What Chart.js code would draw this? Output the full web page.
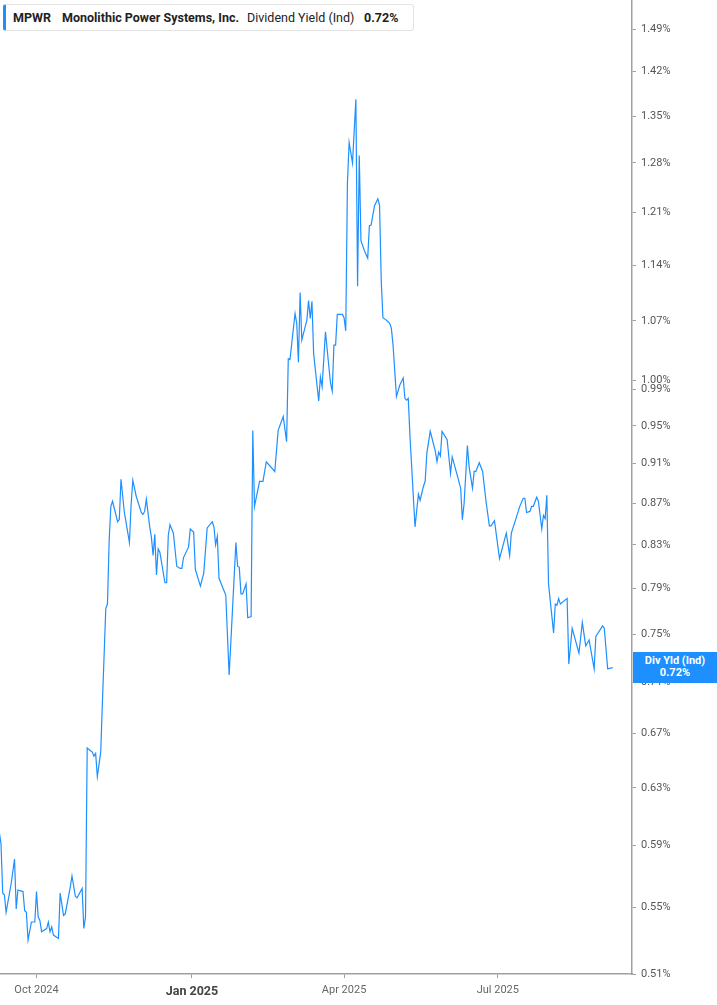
<!DOCTYPE html>
<html>
<head>
<meta charset="utf-8">
<script src="https://cdn.jsdelivr.net/npm/chart.js@4.4.1/dist/chart.umd.min.js"></script>
<style>
    html, body { margin: 0; padding: 0; background: #fff; overflow: hidden; }
    #wrap { position: relative; width: 717px; height: 1005px; }
    #chart { position: absolute; left: 0; top: 0; }
    .legend {
        position: absolute; left: 3px; top: 4px; width: 407px; height: 25px;
        background: #fff; border: 1px solid #e3e3e3; border-left: 3px solid #1e8fff;
        border-radius: 3px; font: 12.5px Roboto, sans-serif; color: #222;
    }
    .legend span { position: absolute; top: 5px; white-space: nowrap; }
    .legend .b { font-weight: bold; }
    #badge {
        position: absolute; left: 633px; width: 84px; height: 31px;
        background: #1e8fff; color: #fff; font: bold 11px Roboto, sans-serif;
        text-align: center; line-height: 12px; display: none;
    }
    #badge div:first-child { margin-top: 3px; }
</style>
</head>
<body>
<div id="wrap">
    <canvas id="chart" width="717" height="1005"></canvas>
    <div class="legend">
        <span class="b" style="left:7px">MPWR</span>
        <span class="b" style="left:56px">Monolithic Power Systems, Inc.</span>
        <span style="left:241px">Dividend Yield (Ind)</span>
        <span class="b" style="left:358px">0.72%</span>
    </div>
    <div id="badge"><div>Div Yld (Ind)</div><div>0.72%</div></div>
</div>
<script>
    "use strict";

    // days counted from 1 Oct 2024
    const days = [-22, -21, -20, -19, -18, -15, -13, -12, -11, -8,
        -7, -6, -5, -3, -1, 0, 1, 2, 3, 6,
        7, 8, 9, 10, 13, 14, 16, 17, 20, 21,
        23, 24, 27, 28, 29, 30, 33, 34, 35, 36,
        38, 39, 41, 42, 43, 44, 45, 48, 49, 50,
        52, 55, 56, 57, 59, 62, 63, 64, 65, 67,
        68, 69, 70, 71, 72, 73, 76, 77, 78, 79,
        81, 83, 85, 86, 87, 90, 91, 93, 94, 97,
        99, 101, 104, 105, 106, 107, 108, 112, 114, 115,
        118, 119, 120, 121, 122, 124, 125, 127, 128, 129,
        132, 134, 136, 141, 143, 146, 148, 149, 150, 153,
        154, 155, 156, 157, 160, 161, 162, 163, 164, 167,
        168, 169, 171, 173, 174, 175, 176, 177, 178, 181,
        182, 183, 184, 185, 186, 187, 189, 190, 191, 192,
        194, 196, 197, 198, 200, 202, 203, 204, 205, 207,
        209, 210, 211, 213, 215, 217, 218, 219, 220, 221,
        224, 226, 227, 229, 230, 231, 233, 236, 237, 238,
        239, 240, 243, 245, 246, 249, 251, 252, 253, 255,
        256, 258, 259, 260, 262, 264, 266, 268, 269, 271,
        274, 278, 280, 281, 286, 288, 289, 290, 292, 293,
        294, 296, 297, 299, 300, 301, 302, 303, 306, 307,
        308, 309, 310, 314, 315, 317, 321, 323, 325, 327,
        330, 331, 335, 336, 338, 341];

    // dividend yield, %
    const yields = [0.599, 0.591, 0.559, 0.558, 0.547, 0.565, 0.581, 0.549, 0.561, 0.560,
        0.548, 0.547, 0.530, 0.541, 0.541, 0.560, 0.544, 0.542, 0.535, 0.537,
        0.541, 0.535, 0.538, 0.533, 0.531, 0.559, 0.545, 0.546, 0.563, 0.570,
        0.557, 0.556, 0.562, 0.537, 0.544, 0.659, 0.656, 0.653, 0.655, 0.638,
        0.656, 0.694, 0.772, 0.776, 0.834, 0.867, 0.872, 0.852, 0.854, 0.894,
        0.861, 0.832, 0.869, 0.893, 0.877, 0.861, 0.859, 0.862, 0.874, 0.847,
        0.837, 0.820, 0.840, 0.802, 0.826, 0.823, 0.795, 0.795, 0.839, 0.849,
        0.841, 0.810, 0.808, 0.808, 0.818, 0.828, 0.845, 0.842, 0.807, 0.792,
        0.804, 0.846, 0.852, 0.847, 0.830, 0.838, 0.799, 0.784, 0.716, 0.743,
        0.832, 0.810, 0.809, 0.785, 0.785, 0.794, 0.764, 0.765, 0.945, 0.867,
        0.892, 0.892, 0.912, 0.902, 0.945, 0.960, 0.933, 1.025, 1.024, 1.079,
        1.067, 1.021, 1.105, 1.047, 1.071, 1.095, 1.073, 1.094, 1.031, 0.977,
        1.004, 0.993, 1.057, 1.016, 0.997, 0.988, 1.041, 1.041, 1.078, 1.078,
        1.074, 1.058, 1.251, 1.310, 1.295, 1.280, 1.376, 1.113, 1.291, 1.172,
        1.159, 1.149, 1.192, 1.193, 1.219, 1.229, 1.220, 1.120, 1.074, 1.071,
        1.067, 1.061, 1.041, 0.982, 0.995, 1.003, 0.980, 0.978, 0.980, 0.939,
        0.847, 0.879, 0.873, 0.887, 0.892, 0.921, 0.944, 0.923, 0.912, 0.922,
        0.918, 0.944, 0.935, 0.900, 0.917, 0.898, 0.885, 0.854, 0.869, 0.929,
        0.907, 0.885, 0.902, 0.902, 0.911, 0.902, 0.872, 0.848, 0.848, 0.853,
        0.817, 0.841, 0.820, 0.841, 0.867, 0.875, 0.875, 0.861, 0.862, 0.867,
        0.867, 0.876, 0.872, 0.845, 0.858, 0.855, 0.878, 0.794, 0.751, 0.776,
        0.775, 0.781, 0.776, 0.781, 0.725, 0.755, 0.734, 0.760, 0.740, 0.745,
        0.721, 0.748, 0.757, 0.755, 0.721, 0.722];

    const yTicks = [0.51, 0.55, 0.59, 0.63, 0.67, 0.71, 0.75, 0.79, 0.83, 0.87, 0.91,
        0.95, 0.99, 1.00, 1.07, 1.14, 1.21, 1.28, 1.35, 1.42, 1.49];
    const xTickDays = [0, 92, 182, 273];
    const xTickLabels = ['Oct 2024', 'Jan 2025', 'Apr 2025', 'Jul 2025'];
    const boldTick = 'Jan 2025';

    const lineColor = '#1e8fff';
    const axisColor = '#a0a0a0';

    let points = days.map(function(d, i) { return { x: d, y: yields[i] }; });

    const badgePlugin = {
        id: 'badge',
        afterDraw: function(chart) {
            let y = chart.scales.y.getPixelForValue(yields[yields.length - 1]),
                badge = document.getElementById('badge');
            badge.style.top = Math.round(y - 15.5) + 'px';
            badge.style.display = 'block';
        }
    };

    function noPadding(s) {
        s.paddingTop = 0;
        s.paddingBottom = 0;
        s.paddingLeft = 0;
        s.paddingRight = 0;
    }

    new Chart(document.getElementById('chart'), {
        type: 'line',
        data: {
            datasets: [{
                data: points,
                borderColor: lineColor,
                borderWidth: 1.2,
                pointRadius: 0,
                tension: 0,
                fill: false,
            }]
        },
        options: {
            responsive: false,
            animation: false,
            devicePixelRatio: 1,
            layout: { padding: 0 },
            plugins: {
                legend: { display: false },
                tooltip: { enabled: false },
            },
            scales: {
                x: {
                    type: 'linear',
                    min: -21.6,
                    max: 352.4,
                    afterFit: function(s) { s.height = 31; noPadding(s); },
                    afterBuildTicks: function(s) {
                        s.ticks = xTickDays.map(function(v) { return { value: v }; });
                    },
                    border: { display: true, color: axisColor, width: 1.5 },
                    grid: { drawOnChartArea: false, drawTicks: true, tickLength: 4, color: axisColor },
                    ticks: {
                        autoSkip: false,
                        maxRotation: 0,
                        padding: 6,
                        callback: function(v) {
                            return xTickLabels[xTickDays.indexOf(v)];
                        },
                        color: function(ctx) {
                            return ctx.tick && ctx.tick.label === boldTick ? '#444' : '#666';
                        },
                        font: function(ctx) {
                            if (ctx.tick && ctx.tick.value === xTickDays[xTickLabels.indexOf(boldTick)]) {
                                return { family: 'Roboto', size: 12.5, weight: 'bold' };
                            }
                            return { family: 'Roboto', size: 11 };
                        },
                    }
                },
                y: {
                    type: 'logarithmic',
                    position: 'right',
                    min: 0.51,
                    max: 1.54,
                    afterFit: function(s) { s.width = 85; noPadding(s); },
                    afterBuildTicks: function(s) {
                        s.ticks = yTicks.map(function(v) { return { value: v }; });
                    },
                    border: { display: true, color: axisColor, width: 1.5 },
                    grid: { drawOnChartArea: false, drawTicks: true, tickLength: 4, color: axisColor },
                    ticks: {
                        autoSkip: false,
                        padding: 5,
                        color: '#555',
                        font: { family: 'Roboto', size: 11 },
                        callback: function(v) { return v.toFixed(2) + '%'; },
                    }
                }
            }
        },
        plugins: [badgePlugin]
    });
</script>
</body>
</html>
